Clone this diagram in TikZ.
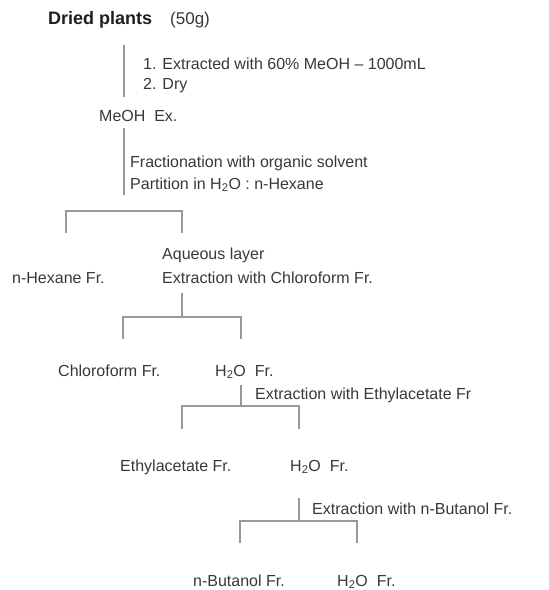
\documentclass[tikz,border=0pt]{standalone}
\usepackage{fontspec}
\setmainfont{Liberation Sans}
\begin{document}
\begin{tikzpicture}[x=1pt,y=-1pt,
  txt/.style={anchor=base west,inner sep=0pt,text=black!78,font=\fontsize{16}{18}\selectfont},
  ttl/.style={anchor=base west,inner sep=0pt,text=black!88,font=\fontsize{18}{20}\selectfont\bfseries},
  ln/.style={draw=black!40,line width=1.8pt}]
\useasboundingbox (0,0) rectangle (549,590);
% texts
\node[ttl] (dried) at (48,24.5) {Dried plants};
\node[txt,font=\fontsize{17}{19}\selectfont] (g50) at (170,24.5) {(50g)};
\node[txt] (s1) at (143,69) {1. Extracted with 60\% MeOH -- 1000mL};
\node[txt] (s2) at (143,89) {2. Dry};
\node[txt] (meoh) at (99,121) {MeOH\ \ Ex.};
\node[txt] (frac) at (130,167) {Fractionation with organic solvent};
\node[txt] (part) at (130,189) {Partition in H\textsubscript{2}O : n-Hexane};
\node[txt] (aq) at (162,259) {Aqueous layer};
\node[txt] (exchl) at (162,283) {Extraction with Chloroform Fr.};
\node[txt] (hex) at (12,283) {n-Hexane Fr.};
\node[txt] (chl) at (58,376) {Chloroform Fr.};
\node[txt] (w1) at (215,376) {H\textsubscript{2}O\ \ Fr.};
\node[txt] (exea) at (255,399) {Extraction with Ethylacetate Fr};
\node[txt] (ea) at (120,471) {Ethylacetate Fr.};
\node[txt] (w2) at (290,471) {H\textsubscript{2}O\ \ Fr.};
\node[txt] (exbu) at (312,514) {Extraction with n-Butanol Fr.};
\node[txt] (bu) at (193,586) {n-Butanol Fr.};
\node[txt] (w3) at (337,586) {H\textsubscript{2}O\ \ Fr.};
% coordinates
\coordinate (a1) at (124,45); \coordinate (a2) at (124,97);
\coordinate (b1) at (124,128); \coordinate (b2) at (124,195);
\coordinate (c1) at (66,233); \coordinate (c2) at (66,211); \coordinate (c3) at (182,211); \coordinate (c4) at (182,233);
\coordinate (d1) at (182,293); \coordinate (d2) at (182,317);
\coordinate (e1) at (123,339); \coordinate (e2) at (123,317); \coordinate (e3) at (241,317); \coordinate (e4) at (241,339);
\coordinate (f1) at (241,385); \coordinate (f2) at (241,406);
\coordinate (g1) at (182,429); \coordinate (g2) at (182,406); \coordinate (g3) at (299,406); \coordinate (g4) at (299,429);
\coordinate (h1) at (299,498); \coordinate (h2) at (299,521);
\coordinate (k1) at (240,543); \coordinate (k2) at (240,521); \coordinate (k3) at (357,521); \coordinate (k4) at (357,543);
% lines
\draw[ln] (a1) -- (a2);
\draw[ln] (b1) -- (b2);
\draw[ln] (c1) -- (c2) -- (c3) -- (c4);
\draw[ln] (d1) -- (d2);
\draw[ln] (e1) -- (e2) -- (e3) -- (e4);
\draw[ln] (f1) -- (f2);
\draw[ln] (g1) -- (g2) -- (g3) -- (g4);
\draw[ln] (h1) -- (h2);
\draw[ln] (k1) -- (k2) -- (k3) -- (k4);
\end{tikzpicture}
\end{document}
